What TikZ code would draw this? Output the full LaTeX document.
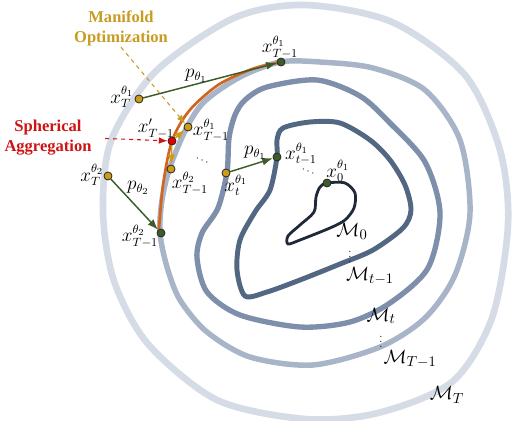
\documentclass[tikz,border=0pt]{standalone}
\usepackage{amsmath,amssymb}
\usepackage{fontspec}
\newfontfamily\tagfont{Liberation Serif}
\usetikzlibrary{arrows.meta}
\definecolor{mT}{RGB}{213,220,230}
\definecolor{mTm}{RGB}{168,180,200}
\definecolor{mt}{RGB}{125,143,170}
\definecolor{mtm}{RGB}{82,103,130}
\definecolor{mzero}{RGB}{30,42,58}
\definecolor{traj}{RGB}{210,100,30}
\definecolor{seed}{RGB}{205,155,20}
\definecolor{leaf}{RGB}{62,92,42}
\definecolor{optgold}{RGB}{200,155,35}
\definecolor{aggred}{RGB}{205,20,20}

\begin{document}
\begin{tikzpicture}[x={(0.75pt,0pt)}, y={(0pt,-0.75pt)}, >=Latex,
    dot/.style={circle, draw=black!85, line width=0.6pt, inner sep=0pt, minimum size=6pt},
    dotY/.style={dot, fill=seed},
    dotG/.style={dot, fill=leaf},
    dotR/.style={dot, fill=red!90!black},
    lbl/.style={inner sep=0pt, font=\fontsize{13.5}{15}\selectfont},
    mlbl/.style={inner sep=0pt, font=\fontsize{15}{17}\selectfont},
    vd/.style={inner sep=0pt, font=\fontsize{8}{9}\selectfont},
    tag/.style={align=center, inner sep=1pt, font=\tagfont\bfseries\fontsize{12.4}{15}\selectfont},
    sample/.style={->, leaf, line width=1.1pt},
    refine/.style={->, seed, line width=1pt}]
\useasboundingbox (0,0) rectangle (512,421);
\draw[mT, line width=5pt] plot[smooth cycle] coordinates {
  (103,212) (111,141) (155,72) (234,18) (305,5) (392,22) (465,75) (500,150)
  (508,225) (492,318) (452,382) (378,413) (305,419) (217,400) (148,344) (114,281)};
\draw[mTm, line width=4.1pt] plot[smooth cycle] coordinates {
  (160,233) (162,200) (170,167) (187,127) (205,101) (240,77) (280,62) (320,62)
  (373,68) (425,90) (460,140) (470,213) (455,275) (425,318) (380,347) (313,365)
  (250,357) (207,332) (180,300) (167,267)};
\draw[mt, line width=4pt] plot[smooth cycle] coordinates {
  (227,172) (218,208) (202,233) (197,258) (207,292) (240,315) (300,327) (350,322)
  (390,303) (428,268) (440,213) (425,162) (390,123) (360,96) (317,80) (267,87)
  (245,100) (235,115) (229,138)};
\draw[mtm, line width=3.7pt] plot[smooth cycle] coordinates {
  (277,157) (277,140) (283,128) (310,122) (340,123) (370,140) (390,160) (405,185)
  (411,210) (403,228) (373,250) (340,264) (300,280) (267,292) (245,296) (237,270)
  (240,240) (255,212) (270,190)};
\draw[mzero, line width=2.1pt] plot[smooth cycle] coordinates {
  (327,183) (345,183) (355,193) (354,208) (345,220) (330,228) (300,240) (288,244)
  (288,236) (300,225) (314,212) (316,197) (320,187)};
\draw[traj, line width=2pt] plot[smooth] coordinates {
  (159,229) (163,185) (172,141) (189,111) (218,85) (252,69) (277,63)};

\node[dotY] (xTa) at (139,99) {};
\node[dotY] (xTb) at (108,176) {};
\node[dotG] (xTma) at (281,62) {};
\node[dotG] (xTmb) at (161,233) {};
\node[dotR] (xagg) at (172,141) {};
\node[dotY] (ya) at (188,127) {};
\node[dotY] (yb) at (171,169) {};
\node[dotY] (xt) at (226,173) {};
\node[dotG] (xtm) at (277,157) {};
\node[dotG] (xzero) at (327,183) {};

\draw[sample] (xTa) -- (xTma);
\draw[sample] (xTb) -- (xTmb);
\draw[sample] (xt) -- (xtm);
\draw[refine] (xagg) -- (ya);
\draw[refine] (xagg) -- (yb);

\node[lbl] (lxTa) at (122,97) {$x_T^{\theta_1}$};
\node[lbl] (lxTb) at (92,175) {$x_T^{\theta_2}$};
\node[lbl] (lpa) at (196,76) {$p_{\theta_1}$};
\node[lbl] (lpb) at (138,188) {$p_{\theta_2}$};
\node[lbl] (lxTma) at (280,47) {$x_{T-1}^{\theta_1}$};
\node[lbl] (lxTmb) at (140,236) {$x_{T-1}^{\theta_2}$};
\node[lbl] (lxagg) at (156,129) {$x_{T-1}'$};
\node[lbl] (lya) at (211,130) {$x_{T-1}^{\theta_1}$};
\node[lbl] (lyb) at (190,183) {$x_{T-1}^{\theta_2}$};
\node[lbl] (lxt) at (236,185) {$x_t^{\theta_1}$};
\node[lbl] (lpt) at (255,153) {$p_{\theta_1}$};
\node[lbl] (lxtm) at (301,154) {$x_{t-1}^{\theta_1}$};
\node[lbl] (lxzero) at (338,171) {$x_0^{\theta_1}$};
\node[vd, rotate=-18] (dotsa) at (203,161) {$\cdots$};
\node[vd, rotate=-18] (dotsb) at (309,172) {$\cdots$};

\node[mlbl] (lM0) at (352,231) {$\mathcal{M}_0$};
\node[vd] (vda) at (350,253) {$\vdots$};
\node[mlbl] (lMtm) at (370,276) {$\mathcal{M}_{t-1}$};
\node[mlbl] (lMt) at (381,316) {$\mathcal{M}_t$};
\node[vd] (vdb) at (381,338) {$\vdots$};
\node[mlbl] (lMTm) at (410,359) {$\mathcal{M}_{T-1}$};
\node[mlbl] (lMT) at (447,395) {$\mathcal{M}_T$};

\node[tag, text=optgold] (manopt) at (121,28) {Manifold\\Optimization};
\node[tag, text=aggred] (sphagg) at (48,138) {Spherical\\Aggregation};
\draw[->, dashed, optgold, line width=0.8pt] (manopt.south) -- (ya);
\draw[->, dashed, aggred, line width=0.8pt, shorten <=9pt] (sphagg.east) -- (xagg);
\end{tikzpicture}
\end{document}
